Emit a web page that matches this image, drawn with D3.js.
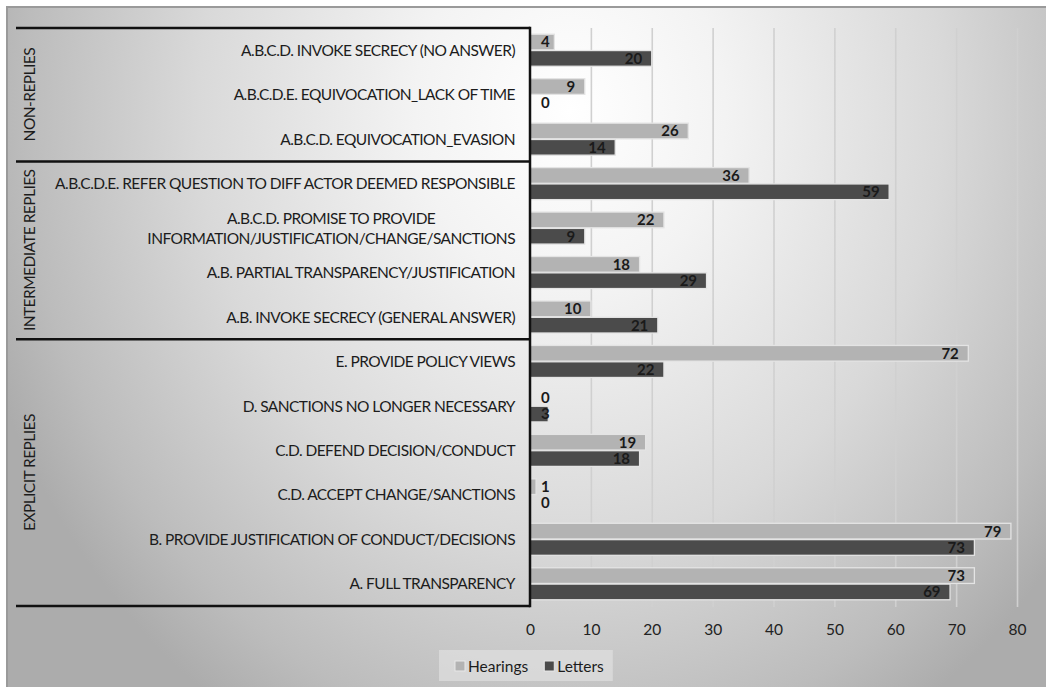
<!DOCTYPE html>
<html>
<head>
<meta charset="utf-8">
<script src="https://cdn.jsdelivr.net/npm/d3@7"></script>
<style>
  body { margin: 0; background: #fff; }
  text { font-family: Lato, "Open Sans", sans-serif; }
  .cat { letter-spacing: -0.55px; }
</style>
</head>
<body>
<div id="chart"></div>
<script>
// data, top to bottom as in the picture
const categories = [
  "A.B.C.D. INVOKE SECRECY (NO ANSWER)",
  "A.B.C.D.E. EQUIVOCATION_LACK OF TIME",
  "A.B.C.D. EQUIVOCATION_EVASION",
  "A.B.C.D.E. REFER QUESTION TO DIFF ACTOR DEEMED RESPONSIBLE",
  "A.B.C.D. PROMISE TO PROVIDE|INFORMATION/JUSTIFICATION/CHANGE/SANCTIONS",
  "A.B. PARTIAL TRANSPARENCY/JUSTIFICATION",
  "A.B. INVOKE SECRECY (GENERAL ANSWER)",
  "E. PROVIDE POLICY VIEWS",
  "D. SANCTIONS NO LONGER NECESSARY",
  "C.D. DEFEND DECISION/CONDUCT",
  "C.D. ACCEPT CHANGE/SANCTIONS",
  "B. PROVIDE JUSTIFICATION OF CONDUCT/DECISIONS",
  "A. FULL TRANSPARENCY"
];
const hearings = [4, 9, 26, 36, 22, 18, 10, 72, 0, 19, 1, 79, 73];
const letters  = [20, 0, 14, 59, 9, 29, 21, 22, 3, 18, 0, 73, 69];
const groups = ["NON-REPLIES", "INTERMEDIATE REPLIES", "EXPLICIT REPLIES"];
const groupSizes = [3, 4, 6];
const series = ["Hearings", "Letters"];
const xTicks = [0, 10, 20, 30, 40, 50, 60, 70, 80];

const w = 1046, h = 687;
const plotLeft = 530, plotRight = 1017, plotTop = 28, plotBottom = 606;
const colors = { Hearings: "#b3b3b3", Letters: "#4b4b4b" };

const svg = d3.select("#chart").append("svg")
  .attr("width", w).attr("height", h);

const defs = svg.append("defs");
const bg = defs.append("radialGradient")
  .attr("id", "bg")
  .attr("gradientUnits", "userSpaceOnUse")
  .attr("cx", 0).attr("cy", 0).attr("r", 1)
  .attr("gradientTransform", "translate(570,110) scale(620,720)");
bg.append("stop").attr("offset", 0).attr("stop-color", "#ffffff");
bg.append("stop").attr("offset", 0.25).attr("stop-color", "#f3f3f3");
bg.append("stop").attr("offset", 0.6).attr("stop-color", "#d9d9d9");
bg.append("stop").attr("offset", 0.88).attr("stop-color", "#bcbcbc");
bg.append("stop").attr("offset", 1).attr("stop-color", "#acacac");

const gridGrad = defs.append("linearGradient")
  .attr("id", "gridGrad")
  .attr("gradientUnits", "userSpaceOnUse")
  .attr("x1", 0).attr("y1", plotTop).attr("x2", 0).attr("y2", plotBottom);
gridGrad.append("stop").attr("offset", 0).attr("stop-color", "#d0d0d0");
gridGrad.append("stop").attr("offset", 0.45).attr("stop-color", "#9a9a9a");
gridGrad.append("stop").attr("offset", 1).attr("stop-color", "#484848");

// chart area with border on top/left
svg.append("rect")
  .attr("x", 7).attr("y", 7).attr("width", w - 7).attr("height", h - 7)
  .attr("fill", "url(#bg)");
svg.append("path")
  .attr("d", `M7,${h} V7 H${w}`)
  .attr("fill", "none").attr("stroke", "#9a9a9a").attr("stroke-width", 2);

const x = d3.scaleLinear().domain([0, 80]).range([plotLeft, plotRight]);
const y = d3.scaleBand()
  .domain(d3.range(categories.length))
  .range([plotTop, plotBottom])
  .paddingInner(0.28).paddingOuter(0.14);
const ys = d3.scaleBand().domain(series).range([0, y.bandwidth()]).paddingInner(0.04);

// gridlines
svg.append("g")
  .attr("transform", `translate(0,${plotBottom + 1})`)
  .call(d3.axisBottom(x).tickValues(xTicks.slice(1)).tickSize(-(plotBottom + 1 - plotTop)).tickFormat(""))
  .call(g => g.select(".domain").remove())
  .call(g => g.selectAll("line").attr("stroke", "url(#gridGrad)").attr("stroke-width", 1.6));

// tick labels
svg.append("g")
  .attr("transform", `translate(0,${plotBottom + 15})`)
  .call(d3.axisBottom(x).tickValues(xTicks).tickSize(0))
  .call(g => g.select(".domain").remove())
  .call(g => g.selectAll("text").attr("font-size", 15.5).attr("fill", "#222")
    .style("font-family", "Lato, sans-serif"));

// bars
const rows = categories.map((c, i) => ({ i, Hearings: hearings[i], Letters: letters[i] }));
const barG = svg.append("g");
series.forEach(s => {
  barG.selectAll(null)
    .data(rows)
    .enter()
    .append("rect")
    .attr("x", plotLeft)
    .attr("y", d => y(d.i) + ys(s))
    .attr("width", d => x(d[s]) - plotLeft)
    .attr("height", ys.bandwidth())
    .attr("fill", colors[s])
    .attr("stroke", d => d[s] > 0 ? "#e4e4e4" : "none")
    .attr("stroke-width", 1.3);
});

// value labels
series.forEach(s => {
  barG.selectAll(null)
    .data(rows)
    .enter()
    .append("text")
    .attr("y", d => y(d.i) + ys(s) + ys.bandwidth() / 2)
    .attr("dy", "0.36em")
    .attr("text-anchor", "end")
    .attr("font-size", 15)
    .attr("font-weight", 700)
    .attr("fill", "#1a1a1a")
    .text(d => d[s])
    .attr("x", function (d) {
      const tw = this.getComputedTextLength();
      return Math.max(x(d[s]) - 9.5, plotLeft + 11 + tw);
    });
});

// category labels
const labelRight = 515;
const catSize = 15.5;
const catG = svg.append("g");
categories.forEach((c, i) => {
  const lines = c.split("|");
  const cy = y(i) + y.bandwidth() / 2;
  const t = catG.append("text")
    .attr("class", "cat")
    .attr("font-size", catSize)
    .attr("fill", "#1c1c1c");
  if (lines.length === 1) {
    t.attr("x", labelRight).attr("y", cy).attr("dy", "0.36em")
      .attr("text-anchor", "end").text(c);
  } else {
    // measure longest line, centre both lines on it
    const probe = catG.append("text").attr("class", "cat").attr("font-size", catSize).text(lines[1]);
    const lw = probe.node().getComputedTextLength();
    probe.remove();
    const cx = labelRight - lw / 2;
    t.attr("text-anchor", "middle");
    lines.forEach((ln, k) => {
      t.append("tspan").attr("x", cx).attr("y", cy + (k - 0.5) * 20).attr("dy", "0.36em").text(ln);
    });
  }
});

// group frame
const step = y.step();
let start = 0;
const frame = svg.append("g").attr("stroke", "#111").attr("stroke-width", 2.5).attr("fill", "none");
frame.append("line").attr("x1", 16).attr("x2", plotLeft).attr("y1", plotTop).attr("y2", plotTop);
groups.forEach((g, k) => {
  const y0 = plotTop + start * step;
  start += groupSizes[k];
  const y1 = plotTop + start * step;
  frame.append("line").attr("x1", 16).attr("x2", plotLeft).attr("y1", y1).attr("y2", y1);
  svg.append("text")
    .attr("class", "cat")
    .attr("transform", `translate(29,${(y0 + y1) / 2}) rotate(-90)`)
    .attr("text-anchor", "middle")
    .attr("dy", "0.36em")
    .attr("font-size", catSize)
    .attr("fill", "#1c1c1c")
    .text(g);
});
frame.append("line").attr("x1", plotLeft).attr("x2", plotLeft).attr("y1", plotTop - 1.2).attr("y2", plotBottom + 1.2);

// legend
const legend = svg.append("g");
const legBox = legend.append("rect")
  .attr("y", 650).attr("height", 31)
  .attr("fill", "#e4e4e4").attr("fill-opacity", 0.6);
let lx = 455;
series.forEach(s => {
  legend.append("rect")
    .attr("x", lx).attr("y", 661).attr("width", 10).attr("height", 10)
    .attr("fill", colors[s]).attr("stroke", "#e8e8e8").attr("stroke-width", 1);
  const t = legend.append("text")
    .attr("x", lx + 13).attr("y", 666).attr("dy", "0.36em")
    .attr("font-size", 15.5).attr("fill", "#1c1c1c").text(s);
  lx += 13 + t.node().getComputedTextLength() + 16;
});
legBox.attr("x", 439).attr("width", lx - 16 + 9 - 439);
</script>
</body>
</html>
